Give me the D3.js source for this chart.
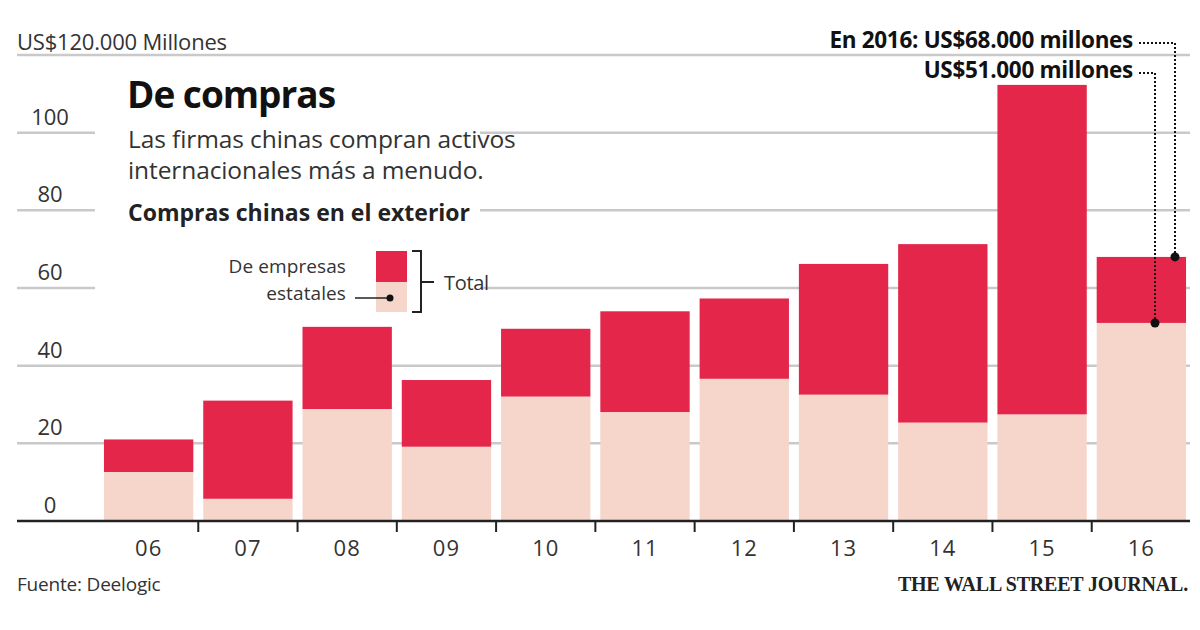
<!DOCTYPE html>
<html>
<head>
<meta charset="utf-8">
<script src="https://cdn.jsdelivr.net/npm/d3@7"></script>
<style>
  body { margin: 0; background: #fff; }
  svg text { font-family: "Open Sans", "Noto Sans", sans-serif; }
</style>
</head>
<body>
<div id="root"></div>
<script>
// data, in US$ thousand millions
const years = ["06", "07", "08", "09", "10", "11", "12", "13", "14", "15", "16"];
const total = [21, 31, 50, 36.3, 49.5, 54, 57.3, 66.2, 71.3, 112.3, 68];
const stateOwned = [12.6, 5.7, 28.8, 19.1, 32, 28, 36.6, 32.5, 25.3, 27.4, 51];
const yTicks = [0, 20, 40, 60, 80, 100];

const width = 1200, height = 630;
const red = "#e3264a", pink = "#f6d5cb", grid = "#c9c9c9";

const svg = d3.select("#root").append("svg")
    .attr("width", width)
    .attr("height", height);

const x = d3.scaleBand()
    .domain(years)
    .range([99, 1191])
    .paddingInner(0.1)
    .paddingOuter(0.05);

const y = d3.scaleLinear()
    .domain([0, 120])
    .range([521, 55]);

// gridlines (some broken behind the title block / legend)
const gridSegs = [
    {v: 120, segs: [[17, 1190]]},
    {v: 100, segs: [[17, 95], [480, 1190]]},
    {v: 80, segs: [[17, 95], [480, 1190]]},
    {v: 60, segs: [[17, 95], [480, 1190]]},
    {v: 40, segs: [[17, 1190]]},
    {v: 20, segs: [[17, 1190]]}
];
gridSegs.forEach(g => {
    g.segs.forEach(s => {
        svg.append("line")
            .attr("x1", s[0]).attr("x2", s[1])
            .attr("y1", y(g.v)).attr("y2", y(g.v))
            .attr("stroke", grid)
            .attr("stroke-width", 2.5);
    });
});

svg.selectAll(".ylab")
    .data(yTicks)
    .enter().append("text")
    .attr("x", 50)
    .attr("y", d => y(d) - 8)
    .attr("text-anchor", "middle")
    .style("font-size", "22px")
    .style("fill", "#333")
    .text(d => d);

svg.append("text")
    .attr("x", 17).attr("y", 50)
    .style("font-size", "22px")
    .style("fill", "#333")
    .style("letter-spacing", "-0.2px")
    .text("US$120.000 Millones");

// bars
const bars = svg.selectAll(".bar")
    .data(years)
    .enter().append("g");

bars.append("rect")
    .attr("x", d => x(d))
    .attr("width", x.bandwidth())
    .attr("y", (d, i) => y(total[i]))
    .attr("height", (d, i) => y(stateOwned[i]) - y(total[i]))
    .attr("fill", red);

bars.append("rect")
    .attr("x", d => x(d))
    .attr("width", x.bandwidth())
    .attr("y", (d, i) => y(stateOwned[i]))
    .attr("height", (d, i) => y(0) - y(stateOwned[i]))
    .attr("fill", pink);

// x axis
svg.append("line")
    .attr("x1", 17).attr("x2", 1190)
    .attr("y1", y(0)).attr("y2", y(0))
    .attr("stroke", "#222")
    .attr("stroke-width", 2.5);

svg.selectAll(".tick")
    .data(years.slice(1))
    .enter().append("line")
    .attr("x1", d => x(d) - x.step() * 0.05)
    .attr("x2", d => x(d) - x.step() * 0.05)
    .attr("y1", y(0))
    .attr("y2", y(0) + 11)
    .attr("stroke", "#222")
    .attr("stroke-width", 2);

svg.selectAll(".xlab")
    .data(years)
    .enter().append("text")
    .attr("x", d => x(d) + x.bandwidth() / 2)
    .attr("y", 556)
    .attr("text-anchor", "middle")
    .style("font-size", "22px")
    .style("letter-spacing", "1px")
    .style("fill", "#333")
    .text(d => d);

// title block
svg.append("text")
    .attr("x", 127).attr("y", 108)
    .style("font-size", "37px")
    .style("font-weight", "bold")
    .style("letter-spacing", "-1px")
    .style("fill", "#111")
    .text("De compras");

const sub = svg.append("text")
    .attr("x", 128).attr("y", 148)
    .style("font-size", "24.5px")
    .style("letter-spacing", "-0.1px")
    .style("fill", "#333");
["Las firmas chinas compran activos", "internacionales más a menudo."].forEach((t, i) => {
    sub.append("tspan")
        .attr("x", 128)
        .attr("dy", i === 0 ? 0 : 31)
        .text(t);
});

svg.append("text")
    .attr("x", 128).attr("y", 221)
    .style("font-size", "23px")
    .style("font-weight", "bold")
    .style("fill", "#222")
    .text("Compras chinas en el exterior");

// legend
svg.append("rect").attr("x", 376).attr("y", 251).attr("width", 31).attr("height", 31).attr("fill", red);
svg.append("rect").attr("x", 376).attr("y", 282).attr("width", 31).attr("height", 30).attr("fill", pink);
svg.append("path")
    .attr("d", "M412,251 H421 V312 H412 M421,282 H434")
    .attr("fill", "none")
    .attr("stroke", "#222")
    .attr("stroke-width", 2);
svg.append("text").attr("x", 444).attr("y", 290)
    .style("font-size", "20px").style("fill", "#333").style("letter-spacing", "-0.3px")
    .text("Total");
svg.append("text").attr("x", 346).attr("y", 273).attr("text-anchor", "end")
    .style("font-size", "19px").style("fill", "#333").style("letter-spacing", "0.1px")
    .text("De empresas");
svg.append("text").attr("x", 346).attr("y", 300).attr("text-anchor", "end")
    .style("font-size", "19px").style("fill", "#333").style("letter-spacing", "0.1px")
    .text("estatales");
svg.append("line").attr("x1", 355).attr("x2", 390).attr("y1", 298).attr("y2", 298)
    .attr("stroke", "#222").attr("stroke-width", 1.5);
svg.append("circle").attr("cx", 390).attr("cy", 298).attr("r", 3.5).attr("fill", "#111");

// annotations for 2016
const last = years.length - 1;
const annos = [
    {text: "En 2016: US$68.000 millones", ty: 48, ly: 43, lx: 1175, v: total[last]},
    {text: "US$51.000 millones", ty: 78, ly: 73, lx: 1155, v: stateOwned[last]}
];
annos.forEach(a => {
    svg.append("text")
        .attr("x", 1133).attr("y", a.ty)
        .attr("text-anchor", "end")
        .style("font-size", "22.5px")
        .style("font-weight", "bold")
        .style("letter-spacing", "-0.3px")
        .style("fill", "#111")
        .text(a.text);
    svg.append("path")
        .attr("d", `M1139,${a.ly} H${a.lx} V${y(a.v)}`)
        .attr("fill", "none")
        .attr("stroke", "#111")
        .attr("stroke-width", 2)
        .attr("stroke-dasharray", "2,2");
    svg.append("circle")
        .attr("cx", a.lx).attr("cy", y(a.v))
        .attr("r", 4.5).attr("fill", "#111");
});

// footer
svg.append("text")
    .attr("x", 17).attr("y", 591)
    .style("font-size", "19px")
    .style("fill", "#333")
    .style("letter-spacing", "-0.2px")
    .text("Fuente: Deelogic");

svg.append("text")
    .attr("x", 1188).attr("y", 591)
    .attr("text-anchor", "end")
    .style("font-family", "'Liberation Serif', 'DejaVu Serif', serif")
    .style("font-size", "20px")
    .style("font-weight", "bold")
    .style("letter-spacing", "-0.2px")
    .style("fill", "#222")
    .text("THE WALL STREET JOURNAL.");
</script>
</body>
</html>
